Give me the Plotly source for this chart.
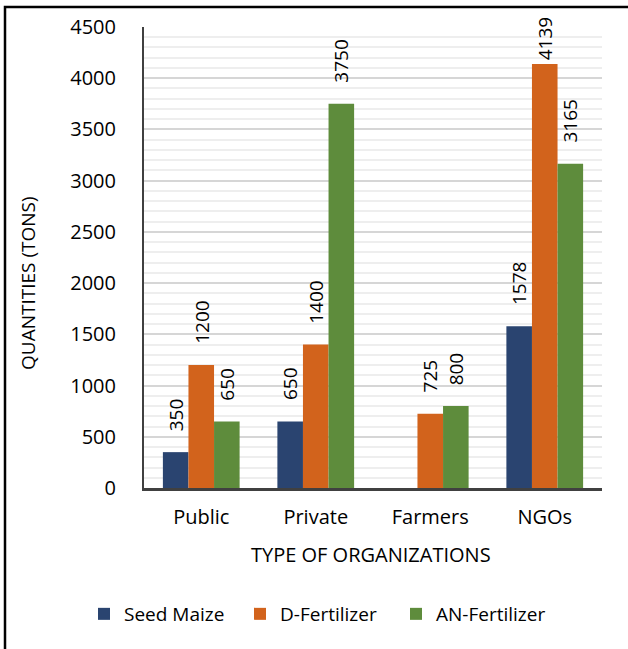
import plotly.graph_objects as go

categories = ["Public", "Private", "Farmers", "NGOs"]
seed_maize = [350, 650, None, 1578]
d_fertilizer = [1200, 1400, 725, 4139]
an_fertilizer = [650, 3750, 800, 3165]
series_names = ["Seed Maize", "D-Fertilizer", "AN-Fertilizer"]
colors = ["#2a4470", "#d2631c", "#5e8c3c"]

FONT = "Open Sans"
W, H = 628, 649
L, R, T, B = 144, 26, 27, 161
plot_w = W - L - R
plot_h = H - T - B
YMAX = 4500
BARGAP = 0.33

fig = go.Figure()
all_series = [seed_maize, d_fertilizer, an_fertilizer]
x_idx = list(range(len(categories)))
for name, vals, col in zip(series_names, all_series, colors):
    fig.add_trace(go.Bar(
        x=x_idx, y=vals, name=name, marker=dict(color=col, line=dict(width=0)),
    ))

# data labels (rotated), above bars with padding, kept inside the chart top
px_per_unit = plot_h / YMAX
gap_units = 19 / px_per_unit
label_len_units = 44 / px_per_unit
cap = YMAX + 9 / px_per_unit - label_len_units
bar_w = (1 - BARGAP) / len(all_series)
annotations = []
for j, vals in enumerate(all_series):
    for i, v in enumerate(vals):
        if v is None:
            continue
        xpos = i + (j - 1) * bar_w
        annotations.append(dict(
            x=xpos, y=min(v + gap_units, cap), xref="x", yref="y",
            text=str(v), textangle=-90, showarrow=False,
            xanchor="center", yanchor="bottom",
            font=dict(family=FONT, size=19, color="#000000"),
        ))

annotations.append(dict(
    x=(28 - L) / plot_w, y=(H - B - 283) / plot_h, xref="paper", yref="paper",
    text="QUANTITIES (TONS)", textangle=-90, showarrow=False,
    xanchor="center", yanchor="middle",
    font=dict(family=FONT, size=19, color="#000000"),
))
annotations.append(dict(
    x=(371 - L) / plot_w, y=(H - B - 554) / plot_h, xref="paper", yref="paper",
    text="TYPE OF ORGANIZATIONS", showarrow=False,
    xanchor="center", yanchor="middle",
    font=dict(family=FONT, size=20, color="#000000"),
))

fig.update_layout(
    width=W, height=H,
    margin=dict(l=L, r=R, t=T, b=B, pad=0),
    paper_bgcolor="white", plot_bgcolor="white",
    barmode="group", bargap=BARGAP, bargroupgap=0,
    font=dict(family=FONT, size=20, color="#000000"),
    annotations=annotations,
    showlegend=True,
    legend=dict(
        orientation="h", x=(84 - L) / plot_w, y=(H - B - 614) / plot_h,
        xanchor="left", yanchor="middle",
        font=dict(family=FONT, size=19, color="#000000"),
        entrywidth=111, entrywidthmode="pixels",
        itemwidth=30, bgcolor="rgba(0,0,0,0)",
    ),
    shapes=[dict(
        type="rect", xref="paper", yref="paper",
        x0=(5 - L) / plot_w, x1=(660 - L) / plot_w,
        y0=(H - B - 680) / plot_h, y1=(H - B - 7) / plot_h,
        line=dict(color="#000000", width=2.5), fillcolor="rgba(0,0,0,0)",
        layer="above",
    )],
)

fig.update_xaxes(
    tickmode="array", tickvals=x_idx, ticktext=categories,
    range=[-0.5, len(categories) - 0.5],
    showline=True, linecolor="#404040", linewidth=2.5,
    ticks="", showgrid=False, zeroline=False,
    ticklabelstandoff=9,
    tickfont=dict(family=FONT, size=20, color="#000000"),
)
fig.update_yaxes(
    range=[0, YMAX], dtick=500, tick0=0,
    showline=True, linecolor="#404040", linewidth=2,
    ticks="", showgrid=True, gridcolor="#d6d6d6", gridwidth=1.5,
    zeroline=False,
    minor=dict(dtick=100, showgrid=True, gridcolor="#eeeeee", gridwidth=1.5),
    ticklabelstandoff=22,
    tickfont=dict(family=FONT, size=20, color="#000000"),
)

fig.write_html("out.html")
